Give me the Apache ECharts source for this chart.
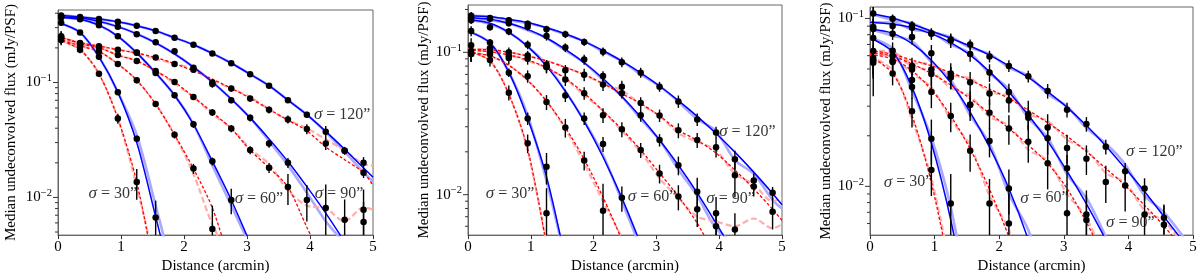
<!DOCTYPE html>
<html><head><meta charset="utf-8">
<script src="https://cdn.jsdelivr.net/npm/echarts@6/dist/echarts.min.js"></script>
<style>html,body{margin:0;padding:0;background:#fff}#c{width:1200px;height:279px}</style>
</head><body><div id="c"></div>
<script>
// ---------- shared grids ----------
const X  = [0.05,0.35,0.65,0.95,1.25,1.55,1.85,2.15,2.45,2.75,3.05,3.35,3.65,3.95,4.25,4.55,4.85];
const LX = [0,0.35,0.65,0.95,1.25,1.55,1.85,2.15,2.45,2.75,3.05,3.35,3.65,3.95,4.25,4.55,4.85,5];
const Y_RANGE_P1 = [0.0047, 0.427];
const Y_RANGE_P2 = [0.0052, 0.215];
const Y_RANGE_P3 = [0.00512, 0.117];
const SIGMAS = ['30','60','90','120'];

// ---------- panel 1 : model curves (on LX) ----------
const p1_b120 = [0.385,0.371,0.356,0.337,0.311,0.281,0.245,0.213,0.179,0.147,0.118,0.0938,0.0702,0.0525,0.0375,0.0262,0.0180,0.0150];
const p1_b90  = [0.373,0.363,0.340,0.306,0.265,0.221,0.177,0.136,0.101,0.0717,0.0492,0.0323,0.0205,0.0124,0.0073,0.0041];
const p1_b60  = [0.370,0.355,0.315,0.252,0.181,0.121,0.0773,0.0433,0.0206,0.0095,0.0040];
const p1_b30  = [0.332,0.272,0.167,0.0824,0.030,0.0068,0.0015];
const p1_r120 = [0.250,0.222,0.207,0.193,0.180,0.165,0.146,0.126,0.107,0.089,0.0730,0.0585,0.0470,0.0380,0.0274,0.0213,0.0164,0.0127];
const p1_r90  = [0.255,0.217,0.201,0.173,0.154,0.126,0.101,0.0748,0.0549,0.0397,0.0258,0.0181,0.0123,0.0055,0.0025];
const p1_r60  = [0.240,0.208,0.186,0.145,0.1045,0.065,0.035,0.0178,0.0081,0.0025];
const p1_r30  = [0.236,0.193,0.119,0.0486,0.0136,0.0020];
// panel 1 : measured (light) curves (on LX)
const p1_b120_lt = [0.385,0.371,0.356,0.337,0.311,0.281,0.245,0.213,0.179,0.147,0.118,0.0938,0.0702,0.0525,0.0370,0.0250,0.0165,0.0138];
const p1_b90_lt  = [0.373,0.363,0.340,0.306,0.265,0.221,0.177,0.136,0.101,0.0717,0.0492,0.0310,0.0190,0.0110,0.0062,0.0040];
const p1_b60_lt  = [0.370,0.355,0.315,0.252,0.181,0.121,0.0773,0.0433,0.0190,0.0085,0.0038];
const p1_b30_lt  = [0.332,0.272,0.167,0.0824,0.035,0.0085,0.0020];
const p1_r120_lt = [0.250,0.222,0.207,0.193,0.180,0.160,0.146,0.130,0.104,0.089,0.0745,0.0585,0.0470,0.0400,0.0320,0.0255,0.0195,0.0190];
const p1_r90_lt  = [0.255,0.217,0.201,0.173,0.154,0.126,0.098,0.0748,0.0530,0.0400,0.0265,0.0195,0.0115,0.0085,0.0080,0.0062,0.0082,0.0078];
const p1_r60_lt  = [0.240,0.208,0.186,0.145,0.1045,0.065,0.035,0.0160,0.0058,0.0028];
const p1_r30_lt  = [0.236,0.193,0.119,0.0486,0.0125,0.0025];
// panel 1 : points (on X) and relative errors
const p1_b120_pts = [0.382,0.371,0.356,0.337,0.311,0.281,0.245,0.213,0.179,0.147,0.118,0.0938,0.0702,0.0525,0.0373,0.0255,0.0164];
const p1_b90_pts  = [0.373,0.366,0.332,0.305,0.263,0.224,0.187,0.134,0.100,0.0702,0.0492,0.0294,0.0200,0.0095,0.0081,0.0064,0.0061];
const p1_b60_pts  = [0.368,0.355,0.315,0.252,0.181,0.121,0.0773,0.0433,0.0206,0.0095];
const p1_b30_pts  = [0.330,0.272,0.167,0.0824,0.0324,0.0067];
const p1_r120_pts = [0.248,0.220,0.207,0.193,0.182,0.165,0.145,0.129,0.0968,0.0885,0.0724,0.0578,0.0477,0.0393,0.0294,0.0255,0.0200];
const p1_r90_pts  = [0.253,0.217,0.201,0.173,0.154,0.126,0.101,0.0748,0.0549,0.0397,0.0258,0.0181,0.0123,null,null,null,0.0078];
const p1_r60_pts  = [0.239,0.208,0.186,0.145,0.1045,0.065,0.035,0.0178,0.0053];
const p1_r30_pts  = [0.234,0.193,0.119,0.0486,0.0136];
const p1_b120_err = [0.04,0.03,0.03,0.03,0.03,0.03,0.03,0.03,0.04,0.04,0.04,0.05,0.05,0.06,0.12,0.06,0.1];
const p1_b90_err  = [0.04,0.03,0.04,0.04,0.04,0.04,0.05,0.05,0.06,0.06,0.07,0.08,0.1,0.35,0.6,0.5,0.5];
const p1_b60_err  = [0.04,0.03,0.04,0.04,0.05,0.05,0.06,0.07,0.08,0.25];
const p1_b30_err  = [0.05,0.04,0.05,0.05,0.06,0.4];
const p1_r120_err = [0.12,0.06,0.06,0.05,0.05,0.05,0.05,0.06,0.07,0.06,0.06,0.07,0.08,0.1,0.12,0.08,0.12];
const p1_r90_err  = [0.1,0.06,0.06,0.05,0.05,0.05,0.06,0.06,0.07,0.07,0.08,0.1,0.3,null,null,null,0.5];
const p1_r60_err  = [0.1,0.07,0.07,0.05,0.06,0.06,0.07,0.1,0.6];
const p1_r30_err  = [0.1,0.07,0.05,0.1,0.3];

// ---------- panel 2 ----------
const p2_b120 = [0.181,0.178,0.171,0.162,0.149,0.135,0.119,0.103,0.0868,0.0718,0.0580,0.0458,0.0355,0.0269,0.0199,0.0144,0.0102,0.0085];
const p2_b90  = [0.175,0.171,0.160,0.145,0.126,0.105,0.0845,0.0655,0.0489,0.0351,0.0242,0.0161,0.0103,0.0063,0.0038];
const p2_b60  = [0.170,0.160,0.138,0.110,0.080,0.0534,0.0327,0.0184,0.0095,0.0045];
const p2_b30  = [0.141,0.1165,0.0726,0.0343,0.0134,0.0035];
const p2_r120 = [0.105,0.1045,0.100,0.0943,0.0871,0.0785,0.0697,0.0604,0.0512,0.0437,0.0358,0.0283,0.0241,0.0196,0.0149,0.0110,0.0079,0.0066];
const p2_r90  = [0.104,0.101,0.0958,0.0885,0.078,0.0655,0.0516,0.0388,0.0288,0.0206,0.0142,0.0097,0.0063,0.0036];
const p2_r60  = [0.100,0.0944,0.0811,0.0635,0.0454,0.0296,0.0177,0.0096,0.0048,0.0022];
const p2_r30  = [0.102,0.0871,0.0508,0.0209,0.0044];
const p2_b120_lt = [0.181,0.178,0.168,0.160,0.149,0.133,0.120,0.101,0.0868,0.0700,0.0580,0.0450,0.0340,0.0280,0.0175,0.0140,0.0092,0.0080];
const p2_b90_lt  = [0.175,0.168,0.160,0.143,0.126,0.103,0.0845,0.0640,0.0489,0.0340,0.0242,0.0150,0.0098,0.0058,0.0045];
const p2_b60_lt  = [0.170,0.158,0.138,0.110,0.082,0.0534,0.0330,0.0190,0.0090,0.0042];
const p2_b30_lt  = [0.141,0.1165,0.0726,0.0360,0.0125,0.0035];
const p2_r120_lt = [0.105,0.1045,0.100,0.0943,0.0871,0.0785,0.0697,0.0600,0.0540,0.0430,0.0358,0.0270,0.0235,0.0205,0.0140,0.0118,0.0090,0.0095];
const p2_r90_lt  = [0.104,0.101,0.0958,0.0870,0.078,0.0650,0.0500,0.0388,0.0280,0.0200,0.0130,0.0095,0.0070,0.0065,0.0060,0.0068,0.0058,0.0062];
const p2_r60_lt  = [0.100,0.0944,0.0811,0.0640,0.0454,0.0290,0.0165,0.0090,0.0050,0.0025];
const p2_r30_lt  = [0.102,0.0871,0.0508,0.0205,0.0045];
const p2_b120_pts = [0.181,0.174,0.168,0.159,0.145,0.134,0.118,0.101,0.0853,0.0720,0.0574,0.0452,0.0338,0.0273,0.0177,0.0126,0.0103];
const p2_b90_pts  = [0.174,0.172,0.160,0.151,0.130,0.108,0.0889,0.0683,0.0516,0.0362,0.0242,0.0161,0.0105,0.0074,0.0057];
const p2_b60_pts  = [0.168,0.150,0.140,0.113,0.0817,0.0497,0.0343,0.0227,0.0095];
const p2_b30_pts  = [0.141,0.117,0.072,0.0343,0.0157];
const p2_r120_pts = [0.112,0.107,0.100,0.0948,0.079,0.0747,0.0697,0.0595,0.0574,0.0440,0.0360,0.0283,0.0242,0.0215,0.0137,0.0114,0.0076];
const p2_r90_pts  = [0.102,0.101,0.0943,0.090,0.079,0.0644,0.0516,0.0362,0.0288,0.0206,0.0141,0.0097,0.0079,0.0060];
const p2_r60_pts  = [0.0973,0.097,0.0914,0.0679,0.0447,0.0296,0.0174,0.0077];
const p2_r30_pts  = [0.0973,0.0885,0.0521,0.0230,0.0074];
const p2_b120_err = [0.06,0.04,0.05,0.05,0.06,0.06,0.06,0.07,0.08,0.08,0.08,0.1,0.1,0.1,0.15,0.12,0.1];
const p2_b90_err  = [0.07,0.05,0.05,0.06,0.07,0.07,0.08,0.08,0.08,0.1,0.1,0.15,0.25,0.3,0.3];
const p2_b60_err  = [0.06,0.05,0.06,0.07,0.08,0.1,0.1,0.12,0.2];
const p2_b30_err  = [0.08,0.06,0.07,0.1,0.25];
const p2_r120_err = [0.12,0.07,0.08,0.08,0.09,0.09,0.1,0.1,0.1,0.1,0.1,0.12,0.12,0.15,0.3,0.15,0.25];
const p2_r90_err  = [0.15,0.08,0.08,0.09,0.1,0.1,0.1,0.12,0.12,0.12,0.15,0.2,0.25,0.25];
const p2_r60_err  = [0.12,0.08,0.1,0.1,0.12,0.15,0.15,0.55];
const p2_r30_err  = [0.12,0.1,0.12,0.15,0.5];

// ---------- panel 3 ----------
const p3_b120 = [0.107,0.1007,0.0924,0.0842,0.0762,0.0685,0.0604,0.0522,0.0445,0.0366,0.0295,0.0230,0.0174,0.0128,0.0093,0.0066,0.00468];
const p3_b90  = [0.0948,0.0924,0.0882,0.0809,0.0718,0.0604,0.0482,0.0365,0.0266,0.0186,0.0123,0.00785,0.00481];
const p3_b60  = [0.0864,0.0815,0.0707,0.0564,0.0413,0.0277,0.0171,0.0097,0.0048,0.0020];
const p3_b30  = [0.0767,0.0631,0.0390,0.0181,0.0063,0.0016];
const p3_r120 = [0.0646,0.0612,0.0565,0.0522,0.0476,0.0428,0.0380,0.0333,0.0284,0.0239,0.0199,0.0161,0.0128,0.0101,0.0077,0.0058,0.0042];
const p3_r90  = [0.0629,0.0596,0.0536,0.047,0.0401,0.0333,0.0273,0.0221,0.0176,0.0137,0.0097,0.0061,0.0036];
const p3_r60  = [0.0612,0.0573,0.0488,0.0376,0.0263,0.0167,0.0096,0.0050,0.0024];
const p3_r30  = [0.0596,0.0471,0.0265,0.0105,0.0030];
const p3_b120_lt = [0.107,0.098,0.0935,0.0830,0.0775,0.0670,0.0615,0.0510,0.0455,0.0355,0.0300,0.0222,0.0180,0.0135,0.0088,0.0070,0.0050];
const p3_b90_lt  = [0.0948,0.0945,0.0860,0.0825,0.0700,0.0620,0.0470,0.0380,0.0255,0.0195,0.0118,0.0085,0.0050];
const p3_b60_lt  = [0.0864,0.0790,0.0730,0.0550,0.0430,0.0265,0.0180,0.0090,0.0055,0.0025];
const p3_b30_lt  = [0.0767,0.0660,0.0370,0.0195,0.0075,0.0018];
const p3_r120_lt = [0.0646,0.0630,0.0545,0.0535,0.0460,0.0440,0.0365,0.0345,0.0270,0.0245,0.0190,0.0165,0.0120,0.0105,0.0072,0.0062,0.0045];
const p3_r90_lt  = [0.0629,0.0615,0.0520,0.0485,0.0385,0.0345,0.0260,0.0230,0.0165,0.0142,0.0090,0.0065,0.0035];
const p3_r60_lt  = [0.0612,0.0590,0.0470,0.0390,0.0250,0.0175,0.0088,0.0055,0.0022];
const p3_r30_lt  = [0.0596,0.0490,0.0250,0.0112,0.0032];
const p3_b120_pts = [0.107,0.0996,0.0911,0.0817,0.0750,0.0699,0.0594,0.0521,0.0452,0.0370,0.0286,0.0235,0.0172,0.0123,0.0097,0.0065];
const p3_b90_pts  = [0.0888,0.0903,0.088,0.081,0.0740,0.0613,0.0476,0.0365,0.0256,0.0193,0.0128,0.0068];
const p3_b60_pts  = [0.0864,0.081,0.0774,0.0620,0.0446,0.0306,0.0186,0.0097];
const p3_b30_pts  = [0.0764,0.0643,0.039,0.0192,0.0079];
const p3_r120_pts = [0.064,0.060,0.052,0.0497,0.047,0.0417,0.0357,0.0324,0.0269,0.0224,0.0169,0.0146,0.0106,0.0101,0.0068,0.0059];
const p3_r90_pts  = [0.0581,0.056,0.0497,0.0466,0.0446,0.0306,0.0274,0.0221,0.0184,0.0137,0.0069,0.0063];
const p3_r60_pts  = [0.0544,0.055,0.043,0.0365,0.0262,0.0163,0.0079,0.0060];
const p3_r30_pts  = [0.056,0.047,0.028,0.0125];
const p3_b120_err = [0.15,0.06,0.06,0.06,0.07,0.07,0.08,0.08,0.08,0.1,0.1,0.1,0.1,0.12,0.15,0.2];
const p3_b90_err  = [0.12,0.07,0.08,0.08,0.1,0.1,0.12,0.12,0.15,0.2,0.2,0.3];
const p3_b60_err  = [0.15,0.08,0.1,0.12,0.15,0.15,0.2,0.3];
const p3_b30_err  = [0.55,0.12,0.15,0.3,0.5];
const p3_r120_err = [0.15,0.1,0.12,0.12,0.15,0.15,0.15,0.15,0.2,0.2,0.2,0.2,0.25,0.3,0.3,0.3];
const p3_r90_err  = [0.2,0.12,0.12,0.15,0.15,0.2,0.2,0.2,0.25,0.3,0.5,0.5];
const p3_r60_err  = [0.2,0.12,0.15,0.2,0.2,0.25,0.4,0.5];
const p3_r30_err  = [0.2,0.15,0.2,0.3];

// sigma label anchors: [x, y] per panel, order 30, 60, 90, 120
const p1_lab_x = [0.87, 3.19, 4.46, 4.51];
const p1_lab_y = [0.0108, 0.0098, 0.0108, 0.0528];
const p2_lab_x = [0.67, 2.93, 4.18, 4.45];
const p2_lab_y = [0.0102, 0.0097, 0.0094, 0.0278];
const p3_lab_x = [0.59, 2.70, 4.03, 4.40];
const p3_lab_y = [0.0106, 0.0085, 0.0061, 0.0161];

// ---------- assembly ----------
const PANELS = [
  { box:{left:58, top:10, width:315, height:233}, yr:Y_RANGE_P1, nameGap:39,
    blue:[p1_b30,p1_b60,p1_b90,p1_b120], red:[p1_r30,p1_r60,p1_r90,p1_r120],
    blueLt:[p1_b30_lt,p1_b60_lt,p1_b90_lt,p1_b120_lt], redLt:[p1_r30_lt,p1_r60_lt,p1_r90_lt,p1_r120_lt],
    pts:[p1_b30_pts,p1_b60_pts,p1_b90_pts,p1_b120_pts,p1_r30_pts,p1_r60_pts,p1_r90_pts,p1_r120_pts],
    err:[p1_b30_err,p1_b60_err,p1_b90_err,p1_b120_err,p1_r30_err,p1_r60_err,p1_r90_err,p1_r120_err],
    lx:p1_lab_x, ly:p1_lab_y },
  { box:{left:468, top:5, width:314, height:234}, yr:Y_RANGE_P2, nameGap:36,
    blue:[p2_b30,p2_b60,p2_b90,p2_b120], red:[p2_r30,p2_r60,p2_r90,p2_r120],
    blueLt:[p2_b30_lt,p2_b60_lt,p2_b90_lt,p2_b120_lt], redLt:[p2_r30_lt,p2_r60_lt,p2_r90_lt,p2_r120_lt],
    pts:[p2_b30_pts,p2_b60_pts,p2_b90_pts,p2_b120_pts,p2_r30_pts,p2_r60_pts,p2_r90_pts,p2_r120_pts],
    err:[p2_b30_err,p2_b60_err,p2_b90_err,p2_b120_err,p2_r30_err,p2_r60_err,p2_r90_err,p2_r120_err],
    lx:p2_lab_x, ly:p2_lab_y },
  { box:{left:870, top:7, width:323, height:236}, yr:Y_RANGE_P3, nameGap:35,
    blue:[p3_b30,p3_b60,p3_b90,p3_b120], red:[p3_r30,p3_r60,p3_r90,p3_r120],
    blueLt:[p3_b30_lt,p3_b60_lt,p3_b90_lt,p3_b120_lt], redLt:[p3_r30_lt,p3_r60_lt,p3_r90_lt,p3_r120_lt],
    pts:[p3_b30_pts,p3_b60_pts,p3_b90_pts,p3_b120_pts,p3_r30_pts,p3_r60_pts,p3_r90_pts,p3_r120_pts],
    err:[p3_b30_err,p3_b60_err,p3_b90_err,p3_b120_err,p3_r30_err,p3_r60_err,p3_r90_err,p3_r120_err],
    lx:p3_lab_x, ly:p3_lab_y }
];

const FONT = 'Liberation Serif, Times New Roman, DejaVu Serif, serif';
const grids = [], xAxes = [], yAxes = [], series = [];

function lineData(ys){ const d=[]; ys.forEach((v,i)=>{ if(v!=null) d.push([LX[i], v]); }); return d; }
function isPow10(v){ const l=Math.log10(v); return Math.abs(l-Math.round(l))<1e-6; }

PANELS.forEach((P, k) => {
  grids.push(Object.assign({show:true, borderColor:'#666', borderWidth:1, backgroundColor:'#fff'}, P.box));
  xAxes.push({type:'value', gridIndex:k, min:0, max:5, interval:1,
    axisLine:{show:true, lineStyle:{color:'#666', width:1}},
    axisTick:{show:true, length:4, lineStyle:{color:'#333'}},
    splitLine:{show:false},
    axisLabel:{color:'#000', fontFamily:FONT, fontSize:15, margin:4},
    name:'Distance (arcmin)', nameLocation:'middle', nameGap:19,
    nameTextStyle:{color:'#000', fontFamily:FONT, fontSize:15}});
  yAxes.push({type:'log', logBase:10, gridIndex:k, min:P.yr[0], max:P.yr[1],
    axisLine:{show:true, lineStyle:{color:'#666', width:1}},
    axisTick:{show:false}, splitLine:{show:false}, minorTick:{show:false},
    axisLabel:{color:'#000', fontFamily:FONT, fontSize:15, margin:6, showMinLabel:false, showMaxLabel:false,
      formatter:(v)=> isPow10(v) ? '10{s|\u2212' + (-Math.round(Math.log10(v))) + '}' : '',
      rich:{s:{fontFamily:FONT, fontSize:10.5, verticalAlign:'top', padding:[0,0,9,0]}}},
    name:'Median undeconvolved flux (mJy/PSF)', nameLocation:'middle', nameGap:P.nameGap,
    nameTextStyle:{color:'#000', fontFamily:FONT, fontSize:15}});

  // y ticks (major at powers of ten, minor at 2..9)
  const tk=[];
  for(let e=-3;e<=0;e++) for(let m=1;m<=9;m++){ const v=m*Math.pow(10,e); if(v>P.yr[0] && v<P.yr[1]) tk.push([0, v, m===1?5:3]); }
  series.push({type:'custom', xAxisIndex:k, yAxisIndex:k, clip:false, silent:true, z:5, data:tk,
    renderItem:(params, api)=>{ const p=api.coord([0, api.value(1)]); const L=api.value(2);
      return {type:'line', shape:{x1:p[0]-L, y1:p[1], x2:p[0], y2:p[1]}, style:{stroke:'#333', lineWidth:1}}; }});

  const common = {type:'line', xAxisIndex:k, yAxisIndex:k, smooth:0.3, showSymbol:false, clip:true, silent:true};
  P.blueLt.forEach(ys => series.push(Object.assign({}, common, {data:lineData(ys), lineStyle:{color:'#a9a9ff', width:2.6}, z:1})));
  P.redLt.forEach(ys => series.push(Object.assign({}, common, {data:lineData(ys), lineStyle:{color:'#ffacac', width:2.2, type:[6,3]}, z:1})));
  P.blue.forEach(ys => series.push(Object.assign({}, common, {data:lineData(ys), lineStyle:{color:'#0000ff', width:1.5}, z:2})));
  P.red.forEach(ys => series.push(Object.assign({}, common, {data:lineData(ys), lineStyle:{color:'#ff0000', width:1.3, type:[3,2]}, z:2})));

  // error bars + points
  const ebar=[], dots=[];
  P.pts.forEach((arr, s) => arr.forEach((v,i) => {
    if(v==null) return;
    dots.push([X[i], v]);
    const e = P.err[s][i];
    if(e!=null) ebar.push([X[i], v, e]);
  }));
  series.push({type:'custom', xAxisIndex:k, yAxisIndex:k, silent:true, z:3, data:ebar,
    renderItem:(params, api)=>{
      const cs=params.coordSys, x=api.value(0), v=api.value(1), e=api.value(2);
      const a=api.coord([x, v*(1+e)]), b=api.coord([x, Math.max(v*(1-e), 1e-6)]);
      const y1=Math.max(a[1], cs.y), y2=Math.min(b[1], cs.y+cs.height);
      if(y2<=y1) return null;
      return {type:'line', shape:{x1:a[0], y1, x2:a[0], y2}, style:{stroke:'#000', lineWidth:1.4}};
    }});
  series.push({type:'scatter', xAxisIndex:k, yAxisIndex:k, data:dots, symbol:'circle', symbolSize:6.5,
    itemStyle:{color:'#000', opacity:1}, silent:true, z:4, clip:true});

  // sigma labels
  series.push({type:'scatter', xAxisIndex:k, yAxisIndex:k, silent:true, z:6, symbolSize:1,
    itemStyle:{color:'rgba(0,0,0,0)'},
    data:SIGMAS.map((s,i)=>[P.lx[i], P.ly[i], s]),
    label:{show:true, position:'inside', formatter:(p)=>'{i|\u03c3} = ' + p.data[2] + '\u201d',
      color:'#000', fontFamily:FONT, fontSize:16,
      rich:{i:{fontStyle:'italic', fontFamily:FONT, fontSize:17, color:'#000'}}}});
});

const chart = echarts.init(document.getElementById('c'), null, {renderer:'canvas'});
chart.setOption({animation:false, grid:grids, xAxis:xAxes, yAxis:yAxes, series});
</script></body></html>
